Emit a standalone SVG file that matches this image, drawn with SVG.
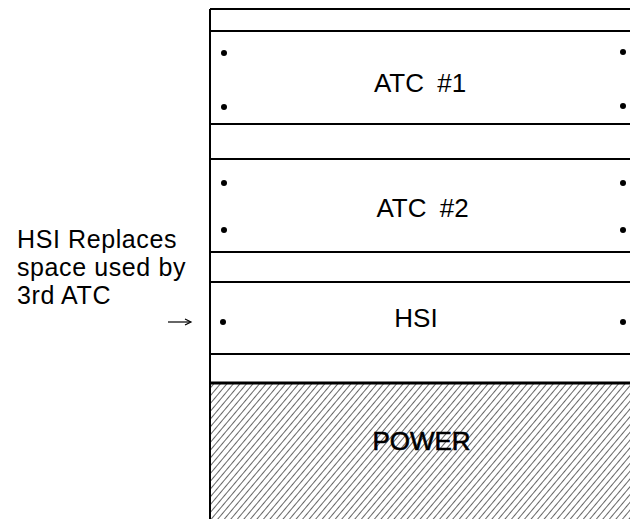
<svg xmlns="http://www.w3.org/2000/svg" width="630" height="519" viewBox="0 0 630 519">
<style>
  .ln{stroke:#000;stroke-width:2;fill:none}
  .dot{fill:#000}
  .lbl{font-family:"Liberation Sans",Arial,sans-serif;font-size:26px;fill:#000}
  .note{font-family:"Liberation Sans",Arial,sans-serif;font-size:25px;letter-spacing:0.6px;fill:#000}
  .mid{text-anchor:middle}
  .ws{word-spacing:6px}
</style>
<defs>
  <pattern id="hatch" width="5" height="5" patternUnits="userSpaceOnUse" patternTransform="rotate(40)">
    <line x1="0" y1="0" x2="0" y2="5" stroke="#000" stroke-width="1.2"/>
  </pattern>
</defs>
<rect width="630" height="519" fill="#fff"/>
<g id="rack">
  <line class="ln" x1="210" y1="9" x2="210" y2="519"/>
  <line class="ln" x1="210" y1="9" x2="630" y2="9"/>
  <line class="ln" x1="210" y1="31" x2="630" y2="31"/>
  <line class="ln" x1="210" y1="124" x2="630" y2="124"/>
  <line class="ln" x1="210" y1="159" x2="630" y2="159"/>
  <line class="ln" x1="210" y1="252" x2="630" y2="252"/>
  <line class="ln" x1="210" y1="282" x2="630" y2="282"/>
  <line class="ln" x1="210" y1="354" x2="630" y2="354"/>
</g>
<g id="atc1">
  <circle class="dot" cx="224" cy="53" r="3"/>
  <circle class="dot" cx="224" cy="107" r="3"/>
  <circle class="dot" cx="623" cy="52" r="3"/>
  <circle class="dot" cx="623" cy="106" r="3"/>
  <text class="lbl mid ws" x="420" y="92">ATC #1</text>
</g>
<g id="atc2">
  <circle class="dot" cx="224" cy="183" r="3"/>
  <circle class="dot" cx="224" cy="230" r="3"/>
  <circle class="dot" cx="623" cy="183" r="3"/>
  <circle class="dot" cx="623" cy="230" r="3"/>
  <text class="lbl mid ws" x="422.5" y="217">ATC #2</text>
</g>
<g id="hsi">
  <circle class="dot" cx="223" cy="322" r="3"/>
  <circle class="dot" cx="623" cy="322" r="3"/>
  <text class="lbl mid" x="416" y="327">HSI</text>
</g>
<g id="power">
  <rect x="210" y="383" width="420" height="136" fill="url(#hatch)"/>
  <line x1="209" y1="383" x2="630" y2="383" stroke="#000" stroke-width="3"/>
  <text class="lbl mid" x="421.5" y="450" stroke="#000" stroke-width="0.6">POWER</text>
</g>
<g id="note">
  <text class="note" x="17" y="248">HSI Replaces</text>
  <text class="note" x="17" y="276">space used by</text>
  <text class="note" x="17" y="304">3rd ATC</text>
</g>
<g id="connectors">
  <line x1="168" y1="322" x2="190" y2="322" stroke="#000" stroke-width="1.2"/>
  <polyline points="185,319 191,322 185,325" fill="none" stroke="#000" stroke-width="1.2"/>
</g>
</svg>
